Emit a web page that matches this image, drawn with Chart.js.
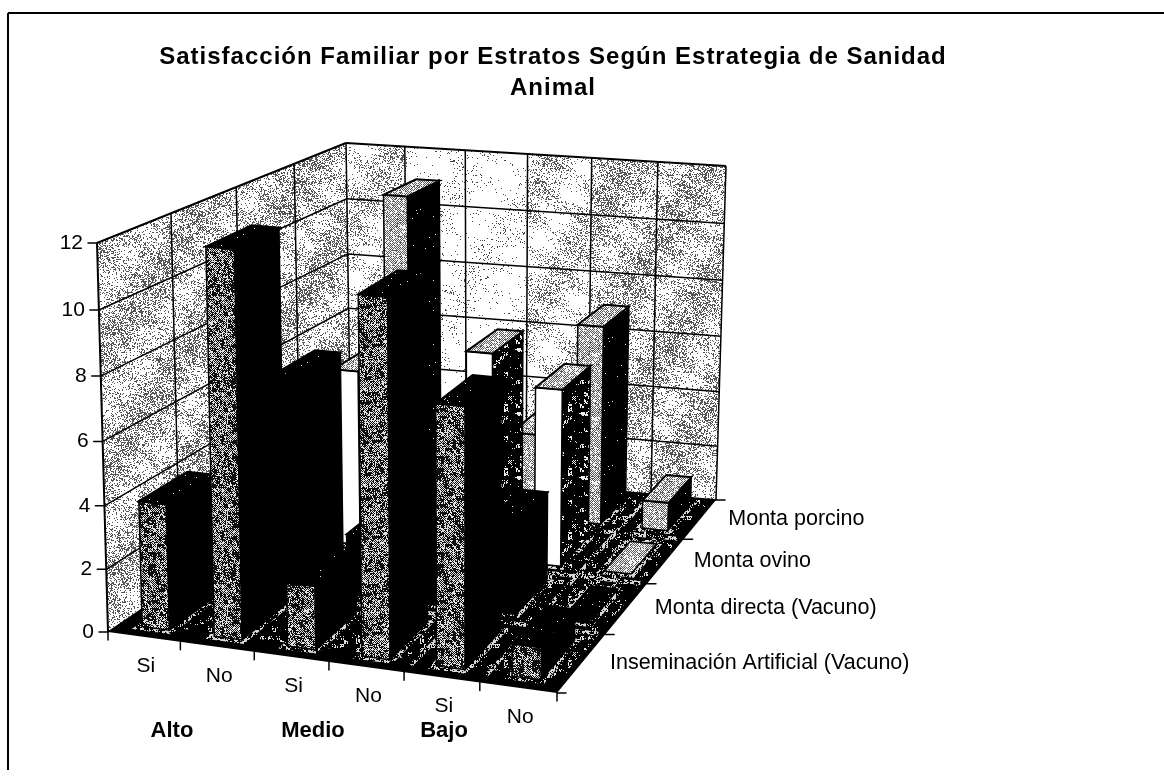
<!DOCTYPE html>
<html>
<head>
<meta charset="utf-8">
<style>html,body{margin:0;padding:0;background:#fff}canvas{display:block}</style>
<script src="https://cdn.jsdelivr.net/npm/chart.js@4"></script>
</head>
<body>
<canvas id="c" width="1164" height="776"></canvas>
<script>
const titleLines = ['Satisfacción Familiar por Estratos Según Estrategia de Sanidad', 'Animal'];
const categories = ['Si', 'No', 'Si', 'No', 'Si', 'No'];
const strata = ['Alto', 'Medio', 'Bajo'];
const seriesNames = ['Inseminación Artificial (Vacuno)', 'Monta directa (Vacuno)', 'Monta ovino', 'Monta porcino'];
const inseminacion = [4, 12, 2, 11, 8, 1];
const montaDirecta = [2, 7, 2, 5, 3, 0];
const montaOvino = [3, 6, 2, 7, 6, 0];
const montaPorcino = [3, 11, 2, 3, 7, 1];
const yTicks = [0, 2, 4, 6, 8, 10, 12];

/* ---- stipple textures (fixed, hashed per pixel) ---- */
function hash(x, y) {
  let n = (Math.imul(x, 374761393) + Math.imul(y, 668265263)) | 0;
  n = Math.imul(n ^ (n >>> 13), 1274126177);
  return ((n ^ (n >>> 16)) >>> 0) / 4294967296;
}
function tile(size, ink, paper, density) {
  const cv = document.createElement('canvas');
  cv.width = cv.height = size;
  const g = cv.getContext('2d');
  const im = g.createImageData(size, size);
  for (let y = 0; y < size; y++) for (let x = 0; x < size; x++) {
    const c = hash(x, y) < density(x, y, size) ? ink : paper;
    const i = (y * size + x) * 4;
    im.data[i] = im.data[i + 1] = im.data[i + 2] = c; im.data[i + 3] = 255;
  }
  g.putImageData(im, 0, 0);
  return cv;
}
const wave = (x, y, s, a, b) => Math.sin(2 * Math.PI * (a * x + b * y) / s);
const blob = (x, y, s, fill, on, off) => hash((x >> 2) + 11, (y >> 2) + 29) < fill ? on : off;
const patterns = {};
function buildPatterns(ctx) {
  const mk = (c) => ctx.createPattern(c, 'repeat');
  const patchy = (base, amp) => (x, y, s) => Math.max(0.006, base + amp * wave(x, y, s, 3, 2) + amp * 0.7 * wave(x, y, s, -5, 7));
  patterns.wallDense = mk(tile(240, 85, 255, patchy(0.33, 0.13)));
  patterns.wallMid = mk(tile(240, 85, 255, patchy(0.2, 0.13)));
  patterns.wallLight = mk(tile(240, 70, 255, patchy(0.05, 0.05)));
  patterns.mottled = mk(tile(96, 15, 225, (x, y, s) => (x + y) % 2 ? 0.8 : blob(x, y, s, 0.35, 0.85, 0.2)));
  patterns.dither = mk(tile(64, 90, 245, (x, y) => (x + y) % 2 ? 0.8 : 0.05));
  patterns.spotDark = mk(tile(64, 235, 0, (x, y, s) => blob(x, y, s, 0.2, 0.6, 0.02)));
  patterns.spotSparse = mk(tile(64, 235, 0, () => 0.006));
  patterns.floor = mk(tile(64, 225, 0, (x, y, s) => blob(x, y, s, 0.2, 0.5, 0.02)));
  patterns.halo = mk(tile(30, 215, 0, (x, y, s) => blob(x, y, s, 0.55, 0.7, 0.15)));
}
const backWallColumns = ['wallMid', 'wallLight', 'wallLight', 'wallMid', 'wallDense', 'wallDense'];

/* ---- bar appearance per series: front, right side, top ---- */
const looks = [
  { front: 'mottled', side: '#000', top: 'spotSparse' },
  { front: '#000', side: '#000', top: 'spotSparse' },
  { front: '#fff', side: 'spotDark', top: 'dither' },
  { front: 'dither', side: 'spotSparse', top: 'dither' }
];
const paint = (k) => patterns[k] || k;

/* ---- view of the 3-D box ---- */
const floorQuad = [[108, 632], [557, 693], [716, 500], [351, 467]];
const topQuad = [[97, 243], [561, 285], [726, 166], [346, 143]];
function homography(q) {
  const [[x0, y0], [x1, y1], [x2, y2], [x3, y3]] = q;
  const dx1 = x1 - x2, dx2 = x3 - x2, sx = x0 - x1 + x2 - x3;
  const dy1 = y1 - y2, dy2 = y3 - y2, sy = y0 - y1 + y2 - y3;
  const d = dx1 * dy2 - dx2 * dy1;
  const g = (sx * dy2 - dx2 * sy) / d, h = (dx1 * sy - sx * dy1) / d;
  const a = x1 - x0 + g * x1, b = x3 - x0 + h * x3, e = y1 - y0 + g * y1, f = y3 - y0 + h * y3;
  return (u, v) => {
    const w = g * u + h * v + 1;
    return [(a * u + b * v + x0) / w, (e * u + f * v + y0) / w];
  };
}
const floorAt = homography(floorQuad), topAt = homography(topQuad);
function project(u, v, h) {
  const k = h - 0.04 * h * (1 - h);
  const w = u + 0.018 * Math.sin(Math.PI * u) * (1 - v) * (1 - v);
  const a = floorAt(w, v), b = topAt(w, v);
  return [a[0] + (b[0] - a[0]) * k, a[1] + (b[1] - a[1]) * k];
}
function poly(ctx, pts, fill, stroke, lw) {
  ctx.beginPath();
  pts.forEach((p, i) => i ? ctx.lineTo(p[0], p[1]) : ctx.moveTo(p[0], p[1]));
  ctx.closePath();
  if (fill) { ctx.fillStyle = fill; ctx.fill(); }
  if (stroke) { ctx.strokeStyle = stroke; ctx.lineWidth = lw || 1; ctx.stroke(); }
}
function line(ctx, a, b, lw, style) {
  ctx.beginPath(); ctx.moveTo(a[0], a[1]); ctx.lineTo(b[0], b[1]);
  ctx.strokeStyle = style || '#000'; ctx.lineWidth = lw || 1.5; ctx.stroke();
}
function label(ctx, text, x, y, font, align) {
  ctx.font = font; ctx.fillStyle = '#000';
  ctx.textAlign = align || 'center'; ctx.textBaseline = 'middle';
  ctx.fillText(text, x, y);
}

const scene = {
  id: 'scene',
  beforeDraw(chart) {
    chart.ctx.letterSpacing = '1px';
  },
  beforeDatasetsDraw(chart) {
    const ctx = chart.ctx;
    ctx.letterSpacing = '0px';
    if (!patterns.wallDense) buildPatterns(ctx);
    const sx = chart.scales.x, sy = chart.scales.y, sz = chart.scales.depth;
    const U = (i) => (sx.getPixelForValue(i) - sx.left) / sx.width;
    const V = (i) => (sz.getPixelForValue(i) - sz.left) / sz.width;
    const H = (val) => (sy.bottom - sy.getPixelForValue(val)) / (sy.bottom - sy.top);
    const nx = categories.length, nz = seriesNames.length;
    ctx.save();

    /* chart frame: top and left rule only */
    line(ctx, [8, 13], [1164, 13], 2);
    line(ctx, [8, 13], [8, 770], 2);

    /* walls */
    poly(ctx, [project(0, 0, 0), project(0, 1, 0), project(0, 1, 1), project(0, 0, 1)], patterns.wallDense);
    backWallColumns.forEach((k, i) => {
      poly(ctx, [project(i / nx, 1, 0), project((i + 1) / nx, 1, 0), project((i + 1) / nx, 1, 1), project(i / nx, 1, 1)], patterns[k]);
    });
    sy.ticks.forEach((t) => {
      const h = H(t.value);
      line(ctx, project(0, 0, h), project(0, 1, h), t.value === 12 ? 2 : 1.5);
      line(ctx, project(0, 1, h), project(1, 1, h), t.value === 12 ? 2 : 1.5);
    });
    for (let j = 0; j <= nz; j++) line(ctx, project(0, j / nz, 0), project(0, j / nz, 1), j === 0 ? 2 : 1.5);
    for (let i = 1; i <= nx; i++) line(ctx, project(i / nx, 1, 0), project(i / nx, 1, 1), 1.5);

    /* floor */
    poly(ctx, [project(0, 0, 0), project(1, 0, 0), project(1, 1, 0), project(0, 1, 0)], '#000');
    const edge = 0.035;
    poly(ctx, [project(edge, edge * 1.5, 0), project(1 - edge / 3, edge * 1.5, 0), project(1 - edge / 3, 1, 0), project(edge, 1, 0)], patterns.floor);
    for (let j = 1; j < nz; j++) line(ctx, project(0.02, j / nz, 0), project(0.985, j / nz, 0), 4, patterns.halo);
    line(ctx, project(4 / nx, 0.03, 0), project(4 / nx, 1, 0), 4, patterns.halo);
    line(ctx, project(5 / nx, 0.03, 0), project(5 / nx, 1, 0), 4, patterns.halo);

    /* bars, back row first */
    const halfU = 0.19 / nx, halfV = 0.34 / nz;
    for (let d = nz - 1; d >= 0; d--) {
      const vals = chart.data.datasets[d].data, look = looks[d], vc = V(d);
      const v0 = vc - halfV, v1 = vc + halfV;
      for (let i = 0; i < nx; i++) {
        const uc = U(i), u0 = uc - halfU, u1 = uc + halfU, h = H(vals[i]);
        const pad = 0.007;
        ctx.lineCap = 'round';
        poly(ctx, [project(u0 - pad, v0 - pad, 0), project(u1 + pad, v0 - pad, 0), project(u1 + pad, v1, 0), project(u0 - pad, v1, 0)], null, patterns.halo, 4);
        poly(ctx, [project(u0, v0, 0), project(u1, v0, 0), project(u1, v1, 0), project(u0, v1, 0)], '#000');
        if (h > 0) {
          poly(ctx, [project(u1, v0, 0), project(u1, v1, 0), project(u1, v1, h), project(u1, v0, h)], paint(look.side), '#000', 1.5);
          poly(ctx, [project(u0, v0, 0), project(u1, v0, 0), project(u1, v0, h), project(u0, v0, h)], paint(look.front), '#000', 1.5);
        }
        poly(ctx, [project(u0, v0, h), project(u1, v0, h), project(u1, v1, h), project(u0, v1, h)], paint(look.top), '#000', h > 0 ? 2 : 1.5);
      }
    }

    /* value axis */
    sy.ticks.forEach((t) => {
      const p = project(0, 0, H(t.value));
      line(ctx, [p[0] - 9, p[1]], p, 1.5);
      label(ctx, String(t.value), p[0] - 14, p[1], '21px "Liberation Sans"', 'right');
    });
    /* category axis */
    for (let i = 0; i <= nx; i++) {
      const p = project(i / nx, 0, 0);
      line(ctx, p, [p[0], p[1] + 8], 1.5);
    }
    categories.forEach((c, i) => {
      const p = project(U(i), 0, 0);
      label(ctx, c, p[0] + 2, p[1] + 29, '21px "Liberation Sans"');
    });
    const strataX = [172, 313, 444];
    strata.forEach((s, i) => label(ctx, s, strataX[i], 731, 'bold 22px "Liberation Sans"'));
    /* depth axis */
    for (let j = 0; j <= nz; j++) {
      const p = project(1, j / nz, 0);
      line(ctx, p, [p[0] + 9, p[1]], 1.5);
    }
    seriesNames.forEach((s, j) => {
      const p = project(1, V(j), 0);
      label(ctx, s, p[0] + 28, p[1], '21.5px "Liberation Sans"', 'left');
    });
    ctx.restore();
    return false;
  }
};

new Chart(document.getElementById('c'), {
  type: 'bar',
  data: {
    labels: categories,
    datasets: [
      { label: seriesNames[0], data: inseminacion },
      { label: seriesNames[1], data: montaDirecta },
      { label: seriesNames[2], data: montaOvino },
      { label: seriesNames[3], data: montaPorcino }
    ]
  },
  plugins: [scene],
  options: {
    responsive: false,
    animation: false,
    events: [],
    layout: { padding: { left: 97, right: 155, top: 0, bottom: 144 } },
    plugins: {
      legend: { display: false },
      tooltip: { enabled: false },
      title: {
        display: true,
        fullSize: false,
        text: titleLines,
        color: '#000',
        font: { family: '"Liberation Sans"', size: 24, weight: 'bold', lineHeight: 1.29 },
        padding: { top: 41.5, bottom: 139.6 }
      }
    },
    scales: {
      x: { type: 'category', display: false, offset: true },
      depth: { type: 'category', axis: 'x', position: 'bottom', display: false, offset: true, labels: seriesNames },
      y: { type: 'linear', display: false, min: 0, max: 12, afterBuildTicks(s) { s.ticks = yTicks.map((value) => ({ value })); } }
    }
  }
});
</script>
</body>
</html>
